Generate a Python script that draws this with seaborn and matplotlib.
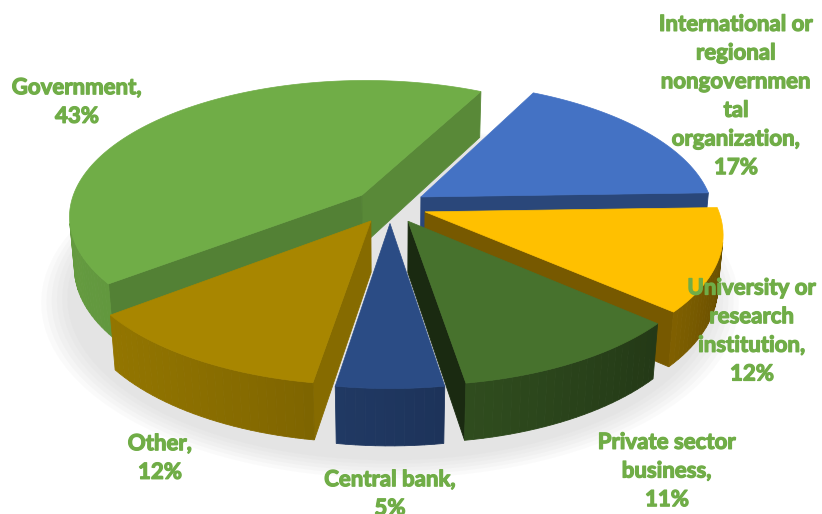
import numpy as np
import matplotlib
matplotlib.use("Agg")
import matplotlib.pyplot as plt
import matplotlib.colors as mcolors
import matplotlib.patheffects as pe
from matplotlib.patches import Polygon
import seaborn as sns

# Survey shares by organisation type, in clockwise order from the first slice
categories = ["International or regional nongovernmental organization",
              "University or research institution",
              "Private sector business",
              "Central bank",
              "Other",
              "Government"]
shares = [17, 12, 11, 5, 12, 43]
label_names = ["International or\nregional\nnongovernmen\ntal\norganization",
               "University or\nresearch\ninstitution",
               "Private sector\nbusiness",
               "Central bank",
               "Other",
               "Government"]
slice_colors = ["#4472C4", "#FFC000", "#47722D", "#2B4C85", "#A88600", "#70AD47"]

sns.set_theme(style="white")
plt.rcParams["font.family"] = ["Lato", "DejaVu Sans"]

# 3-D view parameters (pixel space)
CX, CY = 390, 206
RADIUS = 292
HEIGHT = 58
ELEV = np.radians(27.5)
DIST = 1740
EXPLODE = 37
START = 27.0
LABEL_COLOR = "#70AD47"
label_xy = [(736, 96), (752, 331), (667, 471), (390, 494), (160, 458), (77, 102)]

sE, cE = np.sin(ELEV), np.cos(ELEV)
cam = np.array([0.0, -DIST * cE, DIST * sE])


def proj(P):
    P = np.atleast_2d(P)
    X, Y, Z = P[:, 0], P[:, 1], P[:, 2]
    v = Y * sE + Z * cE
    w = Y * cE - Z * sE
    k = DIST / (DIST + w)
    return np.column_stack([CX + X * k, CY - v * k])


def shade(color, f):
    rgb = np.array(mcolors.to_rgb(color))
    return tuple(np.clip(rgb * f, 0, 1))


wall_light = np.array([-0.949, -0.316])
face_light = np.array([np.sin(np.radians(100)), np.cos(np.radians(100))])


def wall_factor(n):
    return 0.63 + 0.26 * float(np.dot(n, wall_light))


def face_factor(n):
    return 0.58 + 0.22 * float(np.dot(n, face_light))


fig = plt.figure(figsize=(8.22, 5.14), dpi=100)
ax = fig.add_axes([0, 0, 1, 1])
ax.set_xlim(0, 822)
ax.set_ylim(514, 0)
ax.axis("off")

frac = np.array(shares, dtype=float) / sum(shares)
edges = START + np.concatenate([[0], np.cumsum(frac)]) * 360.0

# soft shadow under the front of the pie
for i in range(6):
    pts = []
    for t in np.linspace(0, 360, 120):
        r = RADIUS + EXPLODE - 10 + i * 5
        pts.append([r * np.sin(np.radians(t)), r * np.cos(np.radians(t)) - 28, -HEIGHT - 2])
    ax.add_patch(Polygon(proj(np.array(pts)), closed=True, fc=(0.45, 0.45, 0.45, 0.03),
                         ec="none", zorder=0))

slices = []
for i in range(len(shares)):
    t1, t2 = edges[i], edges[i + 1]
    tm = np.radians((t1 + t2) / 2)
    off = np.array([EXPLODE * np.sin(tm), EXPLODE * np.cos(tm), 0.0])
    slices.append((np.cos(tm), i, t1, t2, off))
slices.sort(key=lambda s: -s[0])

z = 1
for depth, i, t1, t2, off in slices:
    col = slice_colors[i]
    ts = np.radians(np.linspace(t1, t2, max(8, int((t2 - t1) / 1.5))))
    ring_top = np.column_stack([RADIUS * np.sin(ts), RADIUS * np.cos(ts), np.zeros_like(ts)]) + off
    ring_bot = ring_top - np.array([0, 0, HEIGHT])
    ctop = off.copy()
    cbot = off - np.array([0, 0, HEIGHT])
    faces = []
    # flat radial faces
    for t, sgn, rt, rb in [(t1, -1, ring_top[0], ring_bot[0]), (t2, 1, ring_top[-1], ring_bot[-1])]:
        a = np.radians(t + sgn * 90)
        n3 = np.array([np.sin(a), np.cos(a), 0.0])
        quad = np.array([ctop, rt, rb, cbot])
        cen = quad.mean(axis=0)
        if np.dot(n3, cam - cen) > 0:
            faces.append((np.dot(cen - cam, cen - cam), quad, shade(col, face_factor(n3[:2]))))
    # curved outer wall
    for j in range(len(ts) - 1):
        tmid = (ts[j] + ts[j + 1]) / 2
        n3 = np.array([np.sin(tmid), np.cos(tmid), 0.0])
        quad = np.array([ring_top[j], ring_top[j + 1], ring_bot[j + 1], ring_bot[j]])
        cen = quad.mean(axis=0)
        if np.dot(n3, cam - cen) > 0:
            faces.append((np.dot(cen - cam, cen - cam), quad, shade(col, wall_factor(n3[:2]))))
    faces.sort(key=lambda f: -f[0])
    for _, quad, fc in faces:
        ax.add_patch(Polygon(proj(quad), closed=True, fc=fc, ec=fc, lw=0.6, zorder=z))
        z += 1
    top = np.vstack([ctop, ring_top])
    ax.add_patch(Polygon(proj(top), closed=True, fc=col, ec=col, lw=0.5, zorder=z))
    z += 1

for i, (x, y) in enumerate(label_xy):
    ax.text(x, y, f"{label_names[i]},\n{shares[i]}%", ha="center", va="center",
            color=LABEL_COLOR, fontsize=16, fontweight="bold", linespacing=1.45,
            zorder=500,
            path_effects=[pe.withStroke(linewidth=0.9, foreground=LABEL_COLOR)])

fig.savefig("out.png", dpi=100)
